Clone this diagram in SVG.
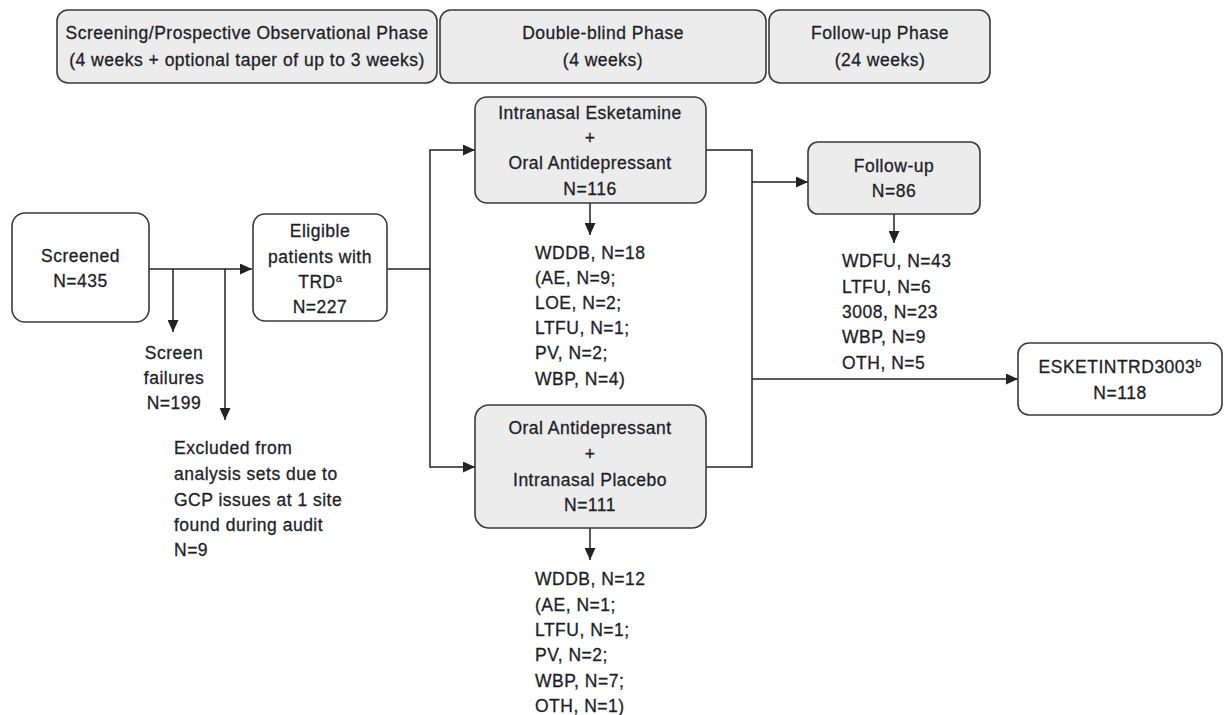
<svg xmlns="http://www.w3.org/2000/svg" width="1224" height="715" viewBox="0 0 1224 715">
<defs>
<marker id="arr" markerWidth="12" markerHeight="11" refX="12" refY="5.5" orient="auto" markerUnits="userSpaceOnUse">
<path d="M0,0 L12,5.5 L0,11 z" fill="#222"/>
</marker>
<style>
text{font-family:"Liberation Sans",Arial,sans-serif;font-size:17.5px;letter-spacing:0.5px;fill:#1e1e28;stroke:#1e1e28;stroke-width:0.3px}
.c{text-anchor:middle}
.g{fill:#ececec;stroke:#3a3a3a;stroke-width:1.6}
.w{fill:#fff;stroke:#3a3a3a;stroke-width:1.6}
.ln{fill:none;stroke:#222;stroke-width:1.5}
.sup{font-size:11px;letter-spacing:0}
</style>
</defs>
<rect width="1224" height="715" fill="#fff"/>

<g id="phase-screening">
<rect class="g" x="57" y="10" width="380" height="73" rx="11"/>
<text class="c" x="247" y="39">Screening/Prospective Observational Phase</text>
<text class="c" x="247" y="66">(4 weeks + optional taper of up to 3 weeks)</text>
</g>
<g id="phase-doubleblind">
<rect class="g" x="440" y="10" width="326" height="73" rx="11"/>
<text class="c" x="603" y="39">Double-blind Phase</text>
<text class="c" x="603" y="66">(4 weeks)</text>
</g>
<g id="phase-followup">
<rect class="g" x="769" y="10" width="221" height="73" rx="11"/>
<text class="c" x="880" y="39">Follow-up Phase</text>
<text class="c" x="880" y="66">(24 weeks)</text>
</g>

<g id="connectors">
<path class="ln" d="M149,269 H252" marker-end="url(#arr)"/>
<path class="ln" d="M173,269 V332" marker-end="url(#arr)"/>
<path class="ln" d="M225,269 V420" marker-end="url(#arr)"/>
<path class="ln" d="M387,269 H430"/>
<path class="ln" d="M430,269 V150 H475" marker-end="url(#arr)"/>
<path class="ln" d="M430,269 V467 H475" marker-end="url(#arr)"/>
<path class="ln" d="M590,203 V235" marker-end="url(#arr)"/>
<path class="ln" d="M590,528 V560" marker-end="url(#arr)"/>
<path class="ln" d="M706,150 H752 V467 H706"/>
<path class="ln" d="M752,182 H808" marker-end="url(#arr)"/>
<path class="ln" d="M752,379 H1018" marker-end="url(#arr)"/>
<path class="ln" d="M894,214 V243" marker-end="url(#arr)"/>
</g>

<g id="screened">
<rect class="w" x="12" y="213" width="137" height="109" rx="13"/>
<text class="c" x="80.5" y="262">Screened</text>
<text class="c" x="80.5" y="287">N=435</text>
</g>

<g id="eligible">
<rect class="w" x="253" y="214" width="134" height="107" rx="12"/>
<text class="c" x="320" y="237">Eligible</text>
<text class="c" x="320" y="263">patients with</text>
<text class="c" x="320" y="288">TRD<tspan class="sup" dy="-6">a</tspan></text>
<text class="c" x="320" y="313">N=227</text>
</g>

<g id="screen-failures">
<text class="c" x="174" y="359">Screen</text>
<text class="c" x="174" y="384">failures</text>
<text class="c" x="174" y="409">N=199</text>
</g>

<g id="excluded">
<text x="174" y="454">Excluded from</text>
<text x="174" y="480">analysis sets due to</text>
<text x="174" y="506">GCP issues at 1 site</text>
<text x="174" y="531">found during audit</text>
<text x="174" y="556">N=9</text>
</g>

<g id="esketamine-arm">
<rect class="g" x="475" y="97" width="231" height="106" rx="12"/>
<text class="c" x="590" y="119">Intranasal Esketamine</text>
<text class="c" x="590" y="144">+</text>
<text class="c" x="590" y="169">Oral Antidepressant</text>
<text class="c" x="590" y="195">N=116</text>
</g>

<g id="esketamine-withdrawals">
<text x="535" y="259">WDDB, N=18</text>
<text x="535" y="284">(AE, N=9;</text>
<text x="535" y="309">LOE, N=2;</text>
<text x="535" y="334">LTFU, N=1;</text>
<text x="535" y="359">PV, N=2;</text>
<text x="535" y="385">WBP, N=4)</text>
</g>

<g id="placebo-arm">
<rect class="g" x="475" y="405" width="231" height="123" rx="14"/>
<text class="c" x="590" y="434">Oral Antidepressant</text>
<text class="c" x="590" y="460">+</text>
<text class="c" x="590" y="486">Intranasal Placebo</text>
<text class="c" x="590" y="511">N=111</text>
</g>

<g id="placebo-withdrawals">
<text x="535" y="585">WDDB, N=12</text>
<text x="535" y="611">(AE, N=1;</text>
<text x="535" y="636">LTFU, N=1;</text>
<text x="535" y="661">PV, N=2;</text>
<text x="535" y="687">WBP, N=7;</text>
<text x="535" y="712">OTH, N=1)</text>
</g>

<g id="followup">
<rect class="g" x="808" y="142" width="172" height="72" rx="10"/>
<text class="c" x="894" y="172">Follow-up</text>
<text class="c" x="894" y="197">N=86</text>
</g>

<g id="followup-withdrawals">
<text x="842" y="267">WDFU, N=43</text>
<text x="842" y="293">LTFU, N=6</text>
<text x="842" y="318">3008, N=23</text>
<text x="842" y="343">WBP, N=9</text>
<text x="842" y="369">OTH, N=5</text>
</g>

<g id="esketintrd3003">
<rect class="w" x="1018" y="343" width="204" height="72" rx="11"/>
<text class="c" x="1120" y="373">ESKETINTRD3003<tspan class="sup" dy="-6">b</tspan></text>
<text class="c" x="1120" y="399">N=118</text>
</g>
</svg>
